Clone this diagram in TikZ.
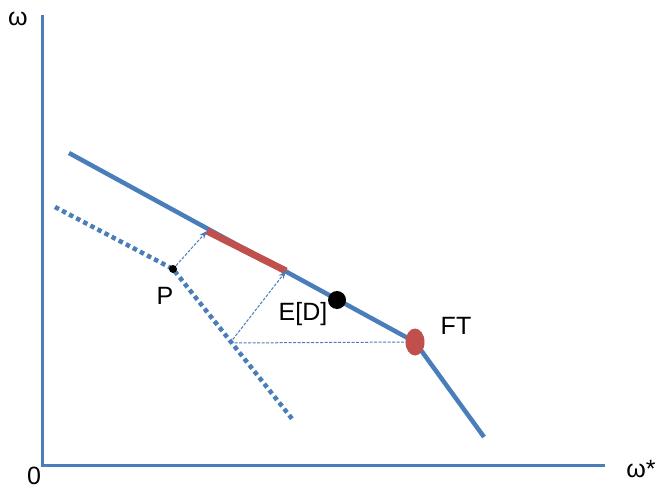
\documentclass[tikz,border=0pt]{standalone}
\usepackage{fontspec}
\setmainfont{Liberation Sans}
\usetikzlibrary{arrows.meta,shapes.geometric}
\definecolor{bl}{RGB}{74,126,187}
\definecolor{rd}{RGB}{192,80,77}
\tikzset{
  axisline/.style={bl, line width=3pt},
  curve/.style={bl, line width=4.5pt},
  dotcurve/.style={bl, line width=4.5pt, dash pattern=on 4.5pt off 3.5pt},
  guide/.style={bl, line width=1pt, dash pattern=on 3pt off 1.5pt},
  guidearrow/.style={guide, -{Stealth[length=8pt,width=6pt]}},
  lbl/.style={font=\fontsize{25}{28}\selectfont, inner sep=0pt}
}
\begin{document}
\begin{tikzpicture}[x=1pt,y=-1pt]
\useasboundingbox (0,0) rectangle (660,489);
% axes
\coordinate (ytop) at (42,15);
\coordinate (orig) at (42,465);
\coordinate (xend) at (605,465);
\draw[axisline] (ytop) -- (orig) -- (xend);
\node[lbl] (wlab) at (18,19) {ω};
\node[lbl] (zero) at (34,476) {0};
\node[lbl] (wslab) at (641,469) {ω*};
% solid frontier
\coordinate (s0) at (69,153);
\coordinate (kink) at (415,342);
\coordinate (s1) at (484,437);
\draw[curve] (s0) -- (kink) -- (s1);
% red segment
\coordinate (r0) at (207,231);
\coordinate (r1) at (286,271);
\draw[rd, line width=7pt] (r0) -- (r1);
% dotted line
\coordinate (d0) at (55,207);
\coordinate (pp) at (173,269);
\coordinate (q) at (230,343);
\coordinate (d1) at (293,420);
\draw[dotcurve] (d0) -- (pp) -- (d1);
% guides
\draw[guidearrow] (pp) -- (r0);
\draw[guidearrow] (q) -- (r1);
\draw[guide] (q) -- (kink);
% points
\node[circle, fill=black, minimum size=8pt, inner sep=0pt] (P) at (pp) {};
\node[lbl] (Plab) at (165,296) {P};
\node[circle, fill=black, minimum size=18pt, inner sep=0pt] (ED) at (337,300) {};
\node[lbl] (EDlab) at (303,314) {E[D]};
\node[ellipse, fill=rd, minimum width=19pt, minimum height=27pt, inner sep=0pt] (FT) at (kink) {};
\node[lbl] (FTlab) at (456,326) {FT};
\end{tikzpicture}
\end{document}
